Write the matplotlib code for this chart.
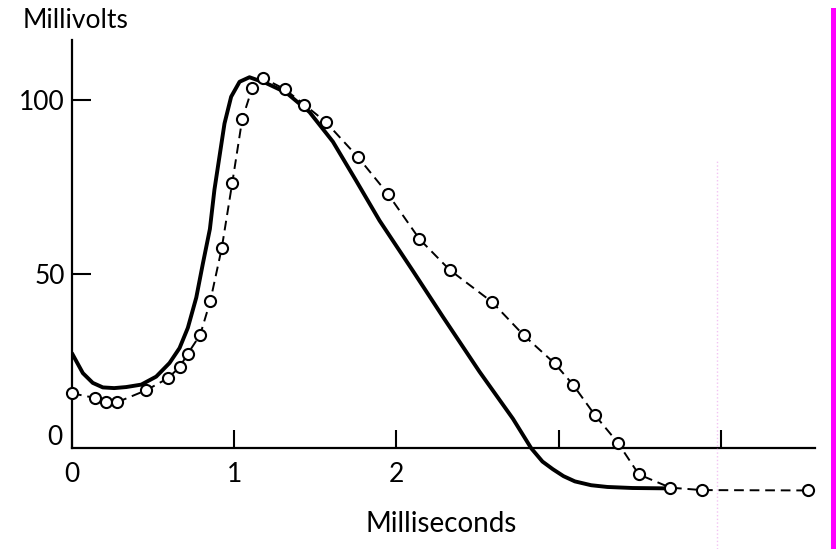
import matplotlib
matplotlib.use("Agg")
import matplotlib.pyplot as plt
from matplotlib.patches import Rectangle
from matplotlib.lines import Line2D

# computed curve (solid)
solid_t = [0, 0.067, 0.128, 0.19, 0.26, 0.334, 0.427, 0.519, 0.601, 0.663, 0.714,
           0.766, 0.806, 0.85, 0.878, 0.94, 0.981, 1.033, 1.094, 1.197, 1.32,
           1.464, 1.608, 1.75, 1.896, 2.101, 2.286, 2.512, 2.718, 2.831, 2.90,
           2.964, 3.03, 3.10, 3.2, 3.3, 3.455, 3.665]
solid_v = [27.3, 21.6, 18.8, 17.5, 17.3, 17.6, 18.3, 20.6, 24.5, 28.8, 34.6,
           43.3, 52.9, 63.0, 74.3, 93.3, 101.0, 105.3, 106.6, 104.9, 102.2,
           96.6, 88.1, 77.0, 65.4, 51.0, 37.8, 22.0, 8.5, 0.0, -3.8,
           -6.0, -8.0, -9.5, -10.6, -11.1, -11.4, -11.5]

# recorded points (open circles, dashed)
circ_t = [0.0, 0.139, 0.207, 0.276, 0.458, 0.59, 0.663, 0.714, 0.79, 0.852, 0.923,
          0.988, 1.049, 1.111, 1.176, 1.31, 1.433, 1.563, 1.762, 1.947, 2.142,
          2.327, 2.59, 2.784, 2.975, 3.088, 3.224, 3.365, 3.494, 3.688, 3.884, 4.536]
circ_v = [15.8, 14.5, 13.3, 13.2, 16.7, 20.1, 23.3, 27.2, 32.6, 42.2, 57.5,
          76.3, 94.5, 103.5, 106.4, 103.2, 98.7, 93.8, 83.7, 73.1, 60.1,
          51.3, 42.0, 32.5, 24.4, 18.3, 9.5, 1.6, -7.5, -11.3, -12.0, -12.1]

x_ticks = [0, 1, 2, 3, 4]
x_labels = ['0', '1', '2', '', '']
y_ticks = [50, 100]
y_labels = ['50', '100']

W, H = 837, 549
plt.rcParams['font.family'] = ['Lato', 'DejaVu Sans']

fig = plt.figure(figsize=(W / 100, H / 100), dpi=100)
ax = fig.add_axes([72 / W, 1 - 507.5 / H, (815 - 72) / W, (507.5 - 40) / H])
ax.set_xlim(0, 4.58)
ax.set_ylim(-17, 117.3)

ax.plot(solid_t, solid_v, color='black', lw=2.8, solid_capstyle='round',
        solid_joinstyle='round', zorder=3)
ax.plot(circ_t, circ_v, color='black', lw=1.4, ls=(0, (5, 3)), marker='o',
        markersize=8, markerfacecolor='white', markeredgecolor='black',
        markeredgewidth=1.5, clip_on=False, zorder=4)

for s in ['top', 'right']:
    ax.spines[s].set_visible(False)
ax.spines['bottom'].set_position(('data', 0))
ax.spines['left'].set_position(('data', 0))
ax.spines['bottom'].set_linewidth(1.6)
ax.spines['left'].set_linewidth(1.6)
ax.spines['left'].set_bounds(0, 117.3)

ax.set_xticks(x_ticks)
ax.set_xticklabels(x_labels)
ax.set_yticks(y_ticks)
ax.set_yticklabels(y_labels)
ax.tick_params(axis='x', direction='in', length=13, width=1.5, pad=10, labelsize=19)
ax.tick_params(axis='y', direction='in', length=14, width=1.5, pad=5, labelsize=19)
ax.text(-0.06, 3.2, '0', ha='right', va='center', fontsize=19)

fig.text(23 / W, 1 - 21 / H, 'Millivolts', ha='left', va='center', fontsize=19)
fig.text(441 / W, 1 - 524 / H, 'Milliseconds', ha='center', va='center', fontsize=20)

# scan artefacts: magenta edge bar and faint dotted line
fig.add_artist(Rectangle((831 / W, 0), 6 / W, 1 - 8 / H, transform=fig.transFigure,
                         color='#ff00ff', lw=0))
fig.add_artist(Line2D([717 / W, 717 / W], [0, 1 - 160 / H], transform=fig.transFigure,
                      color='#f3c3f3', lw=1, ls=':'))

fig.savefig('out.png', dpi=100)
